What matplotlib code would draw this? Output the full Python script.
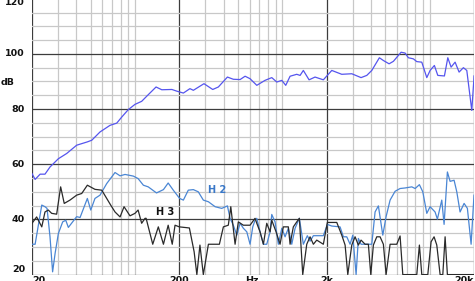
import matplotlib
matplotlib.use("Agg")
import matplotlib.pyplot as plt
from matplotlib.ticker import FixedLocator, NullFormatter

plt.rcParams["font.family"] = ["DejaVu Sans"]

# fundamental response (Hz, dB)
fund_hz = [20, 21, 22.7, 24.5, 26.5, 30.2, 34.4, 40.2, 47.5, 50.9, 57.9, 67.7, 75.2, 81.3,
           90.1, 100, 111, 123, 139, 152, 178, 192, 213, 236, 249, 294, 337, 368, 424, 465,
           517, 559, 604, 671, 763, 848, 917, 992, 1055, 1129, 1253, 1320, 1389, 1519, 1668,
           1899, 2166, 2532, 2961, 3424, 3744, 4049, 4558, 4852, 5305, 5674, 6399, 6812,
           7172, 7755, 8178, 8843, 9564, 10070, 10768, 11357, 12597, 13281, 13982, 14884,
           15843, 16944, 17870, 18816, 19320, 19940, 20000]
fund_db = [56.6, 54.5, 56.4, 56.4, 59, 62, 63.9, 66.9, 68.1, 68.7, 71.7, 74.1, 74.9, 77.1,
           79.8, 81.7, 82.8, 85.2, 88, 87, 87.1, 86.5, 85.8, 87.4, 86.8, 89.2, 87.1, 88, 91.6,
           90.8, 90.7, 91.9, 91, 88.6, 90.4, 91.4, 89.8, 90.4, 88.6, 91.9, 92.6, 92.2, 94,
           90.6, 91.6, 90.6, 94, 92.6, 92.8, 91.4, 92.2, 94, 98.6, 97.6, 96.4, 97.3, 100.6,
           100.3, 98.6, 98.2, 97.2, 97, 91.4, 94, 95.8, 92.2, 92, 98.6, 95.2, 97, 93.4, 95,
           94, 84.4, 79.5, 90.4, 92]

# second harmonic
h2_hz = [20, 21, 23.3, 24.5, 25.3, 26.5, 27.6, 28.7, 30.2, 32.3, 33.9, 35.3, 40.2, 42.4,
         47.5, 50.1, 53.5, 57.9, 64.3, 73.2, 79.2, 85.6, 97.5, 105, 114, 123, 140, 156, 168,
         182, 201, 213, 230, 249, 269, 291, 315, 350, 388, 424, 442, 465, 491, 517, 544,
         574, 604, 630, 653, 671, 706, 744, 784, 826, 848, 893, 940, 992, 1044, 1099, 1159,
         1221, 1305, 1389, 1479, 1543, 1625, 1899, 2022, 2166, 2466, 2597, 2738, 2884, 3008,
         3168, 3282, 3424, 3744, 4049, 4262, 4488, 4808, 5063, 5389, 5827, 6300, 6812, 7565,
         7969, 8520, 8985, 9564, 10070, 10886, 11286, 12086, 12532, 13196, 13766, 14652,
         15282, 16090, 17131, 18038, 19114, 20000]
h2_db = [31, 31, 45.2, 44.6, 44, 33.7, 21, 27.7, 34.9, 39.1, 39.7, 37.1, 41, 40.7,
         47.6, 43.4, 47.6, 48.8, 53, 57, 55.8, 56.3, 55.7, 54.8, 52.4, 51.8, 49.6, 50.8, 53.2,
         50.6, 47.6, 47, 50.6, 50.8, 50, 47, 46.4, 44.6, 44, 44.9, 40.4, 37.9, 34.3, 38.6, 36.8,
         35.5, 31, 37.3, 39.7, 40.4, 35.5, 31, 31, 35.5, 41.8, 39.1, 31, 36.8, 33.7, 36.8, 31,
         36.8, 40.4, 31, 34.1, 32.1, 34.1, 34.1, 38.2, 37.6, 37.3, 33.7, 33.7, 31, 34.3,
         20, 33.1, 31, 31, 31, 42.7, 44.9, 34.3, 41, 47, 50.2, 51.2, 51.4, 51.8,
         51.2, 52.6, 50, 42.2, 44.6, 42.7, 40.1, 47, 38.2, 57.2, 53.8, 54.2,
         50, 42.7, 45.8, 44, 31, 48.8]

# third harmonic
h3_hz = [20, 21.5, 23.3, 24.5, 25.8, 27.2, 29.4, 31.3, 33.1, 36.2, 40.2, 43.5, 47.5, 53.5,
         59.5, 68.4, 73.2, 79.2, 84.3, 92.5, 100, 105, 111, 117, 119, 132, 144, 156, 168, 179,
         187, 200, 234, 252, 263, 276, 291, 315, 374, 398, 430, 447, 478, 503, 544, 604, 653,
         671, 706, 744, 784, 826, 848, 907, 965, 1016, 1099, 1129, 1188, 1253, 1305, 1376,
         1465, 1543, 1625, 1713, 1899, 2022, 2342, 2532, 2668, 2782, 2961, 3118, 3282, 3424,
         3646, 3838, 3985, 4150, 4377, 4608, 4852, 5063, 5389, 5982, 6300, 6572, 8178, 8520,
         8843, 9716, 10226, 10716, 11180, 11776, 12284, 12732, 13196, 20000]
h3_db = [38.6, 40.9, 37.3, 42.7, 43.4, 42.2, 41.9, 51.8, 45.8, 47, 48.8, 49.4, 52.4, 50.9,
         50.6, 45.2, 42.7, 40.9, 44.6, 41.3, 42.2, 43.4, 38.6, 40.4, 40.4, 31, 37.3, 31, 37.9, 31,
         37.9, 37.3, 36.9, 28.3, 20, 30.7, 20, 31, 31, 37.3, 37.9, 44.6, 31, 39.1, 37.9, 37.9, 40.4,
         38.6, 35.5, 31, 38.6, 35.5, 39.7, 35.5, 31, 37.3, 37.3, 31, 37.3, 39.1, 40.4, 20,
         31, 33.7, 31, 32.5, 31, 38.9, 38.9, 34.3, 30.7, 20, 30.7, 33.7, 30.7, 32.5,
         31, 31, 20, 30.7, 33.7, 33.7, 31, 20, 31, 31, 34, 20, 20, 30.7,
         20, 20, 31.9, 33.7, 30.7, 20, 20, 33.7, 20, 20]

y_labels = [40, 60, 80, 100]
x_labels = [(200, "200"), (623, "Hz"), (2000, "2k")]

fig = plt.figure(figsize=(4.75, 2.81), dpi=100)
ax = fig.add_axes([32 / 475, 0.0228, 442 / 475, 0.9818])
ax.set_xscale("log")
ax.set_xlim(20, 20000)
ax.set_ylim(20, 120)

ax.xaxis.set_major_locator(FixedLocator([20, 200, 2000, 20000]))
minor_x = [m * d for d in (10, 100, 1000) for m in range(3, 11)]
ax.xaxis.set_minor_locator(FixedLocator(minor_x))
ax.yaxis.set_major_locator(FixedLocator(range(20, 121, 20)))
ax.yaxis.set_minor_locator(FixedLocator(range(25, 120, 5)))
ax.xaxis.set_major_formatter(NullFormatter())
ax.xaxis.set_minor_formatter(NullFormatter())
ax.yaxis.set_major_formatter(NullFormatter())
ax.tick_params(which="both", length=0)
ax.grid(which="minor", color="#c8c8c8", lw=0.9)
ax.grid(which="major", color="#3c3c3c", lw=0.9)
ax.set_axisbelow(True)
for s in ax.spines.values():
    s.set_visible(False)

ax.plot(fund_hz, fund_db, color="#5555ee", lw=0.9)
ax.plot(h2_hz, h2_db, color="#4a86d4", lw=0.9)
ax.plot(h3_hz, h3_db, color="#2a2a2a", lw=0.9)

ax.text(363, 50.6, "H 2", color="#3a78c8", fontsize=7, fontweight="bold", ha="center", va="center")
ax.text(159, 42.8, "H 3", color="#111111", fontsize=7, fontweight="bold", ha="center", va="center")

ytr = ax.get_yaxis_transform()
lab = dict(fontsize=6.8, fontweight="bold", color="#111111")
for v in y_labels:
    ax.text(-0.016, v, str(v), transform=ytr, ha="right", va="center", **lab)
ax.text(-0.016, 118.6, "120", transform=ytr, ha="right", va="center", **lab)
ax.text(-0.016, 21.8, "20", transform=ytr, ha="right", va="center", **lab)
ax.text(-0.072, 89.6, "dB", transform=ytr, ha="left", va="center", **lab)

xtr = ax.get_xaxis_transform()
ax.text(20, -0.005, "20", transform=xtr, ha="left", va="top", **lab)
for f, t in x_labels:
    ax.text(f, -0.005, t, transform=xtr, ha="center", va="top", **lab)
ax.text(20000, -0.005, "20k", transform=xtr, ha="right", va="top", **lab)

fig.savefig("out.png", dpi=100)
